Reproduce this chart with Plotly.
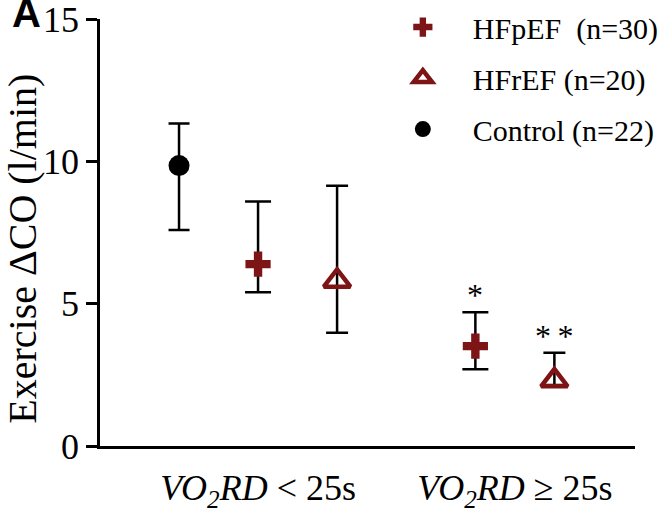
import plotly.graph_objects as go

# Group labels on the x axis
groups = ["<i>VO<sub>2</sub>RD</i> < 25s", "<i>VO<sub>2</sub>RD</i> ≥ 25s"]

# Exercise ΔCO (l/min): mean with lower / upper error bounds per group
control_mean = [9.85]
control_low = [7.59]
control_high = [11.33]

hfpef_mean = [6.39, 3.51]
hfpef_low = [5.40, 2.70]
hfpef_high = [8.59, 4.70]

hfref_mean = [5.80, 2.30]
hfref_low = [3.98, 2.14]
hfref_high = [9.14, 3.28]

# Significance marks above the VO2RD >= 25s group
hfpef_sig = ["", "*"]
hfref_sig = ["", "*\u2009*"]

RED = "#7d1416"
FONT = "Liberation Serif"

# Position of each series inside a group (group centres at 1.0 and 4.25)
centres = [1.0, 4.25]
x_control = [centres[0] - 1.0]
x_hfpef = [centres[0], centres[1] - 0.5]
x_hfref = [centres[0] + 1.0, centres[1] + 0.5]


def err(mean, low, high):
    return dict(
        type="data",
        symmetric=False,
        array=[h - m for m, h in zip(mean, high)],
        arrayminus=[m - l for m, l in zip(mean, low)],
        color="black",
        thickness=2.5,
    )


fig = go.Figure()

fig.add_trace(go.Scatter(
    x=x_hfpef, y=hfpef_mean, mode="markers",
    name="HFpEF\u00a0 (n=30)", legendgroup="a",
    marker=dict(symbol="cross", size=21, color=RED),
    error_y={**err(hfpef_mean, hfpef_low, hfpef_high), "width": 13},
))
fig.add_trace(go.Scatter(
    x=x_hfref, y=hfref_mean, mode="markers",
    name="HFrEF (n=20)", legendgroup="b",
    marker=dict(symbol="triangle-up-open", size=23, color=RED,
                line=dict(width=4.5, color=RED)),
    error_y={**err(hfref_mean, hfref_low, hfref_high), "width": 11},
))
fig.add_trace(go.Scatter(
    x=x_control, y=control_mean, mode="markers",
    name="Control (n=22)", legendgroup="c",
    marker=dict(symbol="circle", size=21, color="black"),
    error_y={**err(control_mean, control_low, control_high), "width": 10.5},
))

# Asterisks above the upper error bar
for xs, highs, marks in [(x_hfpef, hfpef_high, hfpef_sig), (x_hfref, hfref_high, hfref_sig)]:
    for x, h, m in zip(xs, highs, marks):
        if m:
            fig.add_annotation(x=x, y=h, text=m, showarrow=False,
                               yanchor="middle", yshift=17,
                               font=dict(family=FONT, size=32, color="black"))

# Y axis title
fig.add_annotation(text="Exercise ΔCO (l/min)", textangle=-90,
                   xref="paper", yref="paper", x=-0.144, y=0.462,
                   xanchor="center", yanchor="middle", showarrow=False,
                   font=dict(family=FONT, size=40, color="black"))

# Panel letter
fig.add_annotation(text="<b>A</b>", xref="paper", yref="paper",
                   x=-0.168, y=0.958, xanchor="left", yanchor="bottom",
                   showarrow=False,
                   font=dict(family="Liberation Sans", size=40, color="black"))

fig.update_layout(
    width=660, height=514,
    margin=dict(l=100, r=25, t=19, b=68, autoexpand=False),
    paper_bgcolor="white", plot_bgcolor="white",
    font=dict(family=FONT, color="black"),
    showlegend=True,
    legend=dict(x=0.510, y=1.042, xanchor="left", yanchor="top",
                font=dict(family=FONT, size=30, color="black"),
                itemwidth=90, tracegroupgap=9, bgcolor="rgba(0,0,0,0)"),
    xaxis=dict(range=[-1.0, 5.77], showgrid=False, zeroline=False,
               showline=True, linecolor="black", linewidth=2.5,
               tickmode="array", tickvals=centres, ticktext=groups,
               ticks="", ticklabelstandoff=8,
               tickfont=dict(family=FONT, size=36, color="black")),
    yaxis=dict(range=[0, 15], showgrid=False, zeroline=False,
               showline=True, linecolor="black", linewidth=2.5,
               tickmode="array", tickvals=[0, 5, 10, 15],
               ticks="outside", ticklen=11, tickwidth=2.5, tickcolor="black",
               ticklabeloverflow="allow",
               tickfont=dict(family=FONT, size=36, color="black")),
)

fig.write_html("out.html")
